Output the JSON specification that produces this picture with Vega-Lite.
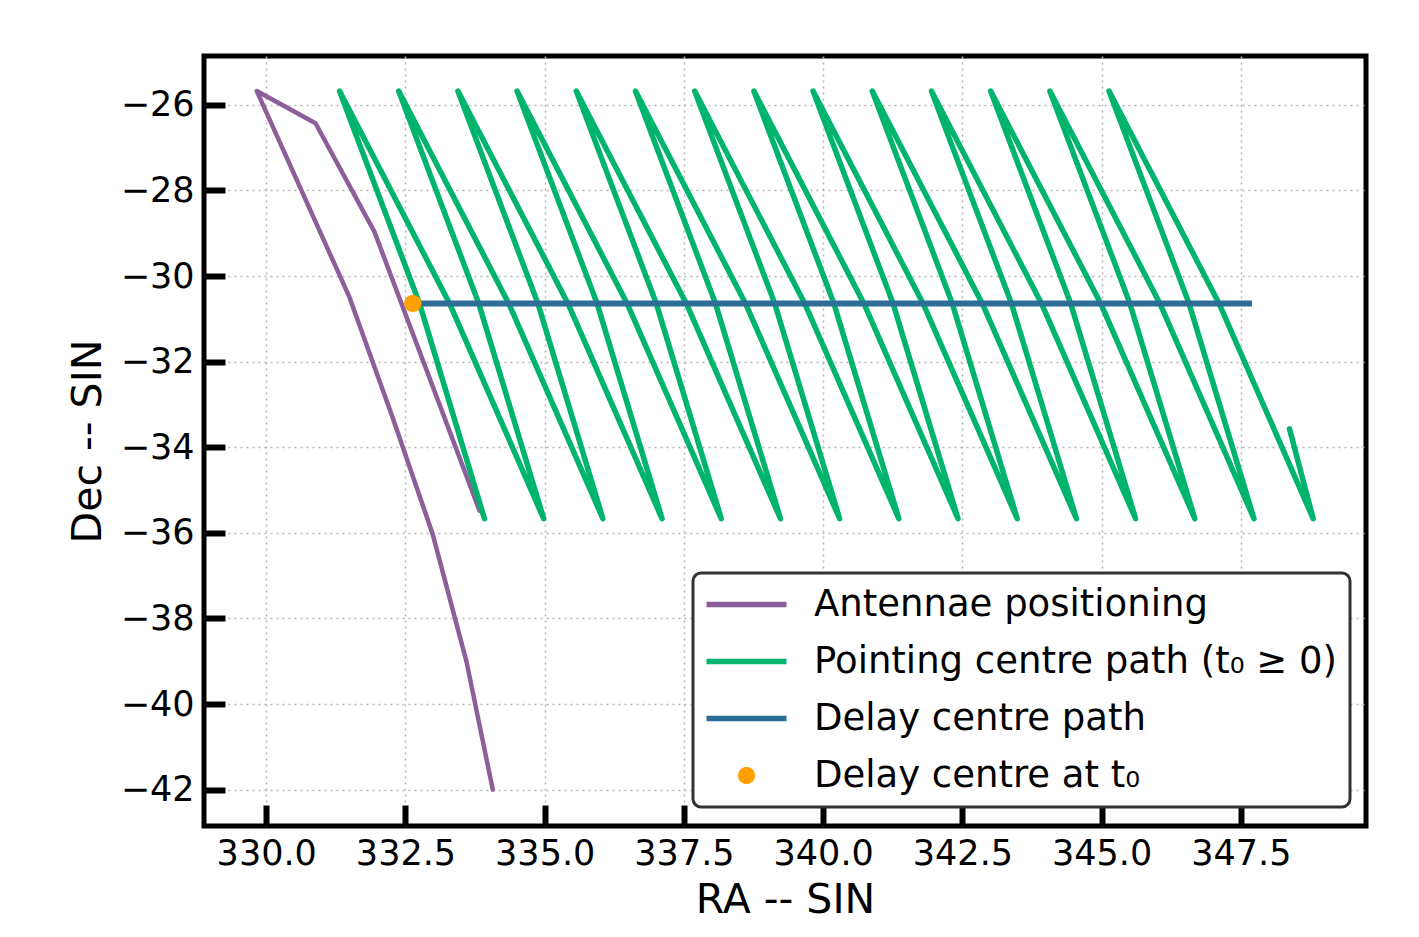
{
  "$schema": "https://vega.github.io/schema/vega-lite/v6.json",
  "width": 1162,
  "height": 770,
  "autosize": {"type": "none"},
  "padding": {"left": 204, "top": 56, "right": 53, "bottom": 111},
  "background": "white",
  "data": {
    "values": [
      {"s": "A", "i": 0, "ra": 334.068, "dec": -42.0},
      {"s": "A", "i": 1, "ra": 333.596, "dec": -39.01},
      {"s": "A", "i": 2, "ra": 332.986, "dec": -36.02},
      {"s": "A", "i": 3, "ra": 332.268, "dec": -33.3},
      {"s": "A", "i": 4, "ra": 331.496, "dec": -30.5},
      {"s": "A", "i": 5, "ra": 329.831, "dec": -25.68},
      {"s": "A", "i": 6, "ra": 330.885, "dec": -26.43},
      {"s": "A", "i": 7, "ra": 331.944, "dec": -28.97},
      {"s": "A", "i": 8, "ra": 333.829, "dec": -35.48},
      {"s": "P", "i": 0, "ra": 333.919, "dec": -35.67},
      {"s": "P", "i": 1, "ra": 332.752, "dec": -30.64},
      {"s": "P", "i": 2, "ra": 331.316, "dec": -25.68},
      {"s": "P", "i": 3, "ra": 333.291, "dec": -30.64},
      {"s": "P", "i": 4, "ra": 334.982, "dec": -35.67},
      {"s": "P", "i": 5, "ra": 333.815, "dec": -30.64},
      {"s": "P", "i": 6, "ra": 332.379, "dec": -25.68},
      {"s": "P", "i": 7, "ra": 334.354, "dec": -30.64},
      {"s": "P", "i": 8, "ra": 336.045, "dec": -35.67},
      {"s": "P", "i": 9, "ra": 334.878, "dec": -30.64},
      {"s": "P", "i": 10, "ra": 333.442, "dec": -25.68},
      {"s": "P", "i": 11, "ra": 335.417, "dec": -30.64},
      {"s": "P", "i": 12, "ra": 337.107, "dec": -35.67},
      {"s": "P", "i": 13, "ra": 335.94, "dec": -30.64},
      {"s": "P", "i": 14, "ra": 334.504, "dec": -25.68},
      {"s": "P", "i": 15, "ra": 336.479, "dec": -30.64},
      {"s": "P", "i": 16, "ra": 338.17, "dec": -35.67},
      {"s": "P", "i": 17, "ra": 337.003, "dec": -30.64},
      {"s": "P", "i": 18, "ra": 335.567, "dec": -25.68},
      {"s": "P", "i": 19, "ra": 337.542, "dec": -30.64},
      {"s": "P", "i": 20, "ra": 339.233, "dec": -35.67},
      {"s": "P", "i": 21, "ra": 338.066, "dec": -30.64},
      {"s": "P", "i": 22, "ra": 336.63, "dec": -25.68},
      {"s": "P", "i": 23, "ra": 338.605, "dec": -30.64},
      {"s": "P", "i": 24, "ra": 340.296, "dec": -35.67},
      {"s": "P", "i": 25, "ra": 339.129, "dec": -30.64},
      {"s": "P", "i": 26, "ra": 337.693, "dec": -25.68},
      {"s": "P", "i": 27, "ra": 339.668, "dec": -30.64},
      {"s": "P", "i": 28, "ra": 341.359, "dec": -35.67},
      {"s": "P", "i": 29, "ra": 340.192, "dec": -30.64},
      {"s": "P", "i": 30, "ra": 338.756, "dec": -25.68},
      {"s": "P", "i": 31, "ra": 340.731, "dec": -30.64},
      {"s": "P", "i": 32, "ra": 342.421, "dec": -35.67},
      {"s": "P", "i": 33, "ra": 341.254, "dec": -30.64},
      {"s": "P", "i": 34, "ra": 339.818, "dec": -25.68},
      {"s": "P", "i": 35, "ra": 341.793, "dec": -30.64},
      {"s": "P", "i": 36, "ra": 343.484, "dec": -35.67},
      {"s": "P", "i": 37, "ra": 342.317, "dec": -30.64},
      {"s": "P", "i": 38, "ra": 340.881, "dec": -25.68},
      {"s": "P", "i": 39, "ra": 342.856, "dec": -30.64},
      {"s": "P", "i": 40, "ra": 344.547, "dec": -35.67},
      {"s": "P", "i": 41, "ra": 343.38, "dec": -30.64},
      {"s": "P", "i": 42, "ra": 341.944, "dec": -25.68},
      {"s": "P", "i": 43, "ra": 343.919, "dec": -30.64},
      {"s": "P", "i": 44, "ra": 345.61, "dec": -35.67},
      {"s": "P", "i": 45, "ra": 344.443, "dec": -30.64},
      {"s": "P", "i": 46, "ra": 343.007, "dec": -25.68},
      {"s": "P", "i": 47, "ra": 344.982, "dec": -30.64},
      {"s": "P", "i": 48, "ra": 346.673, "dec": -35.67},
      {"s": "P", "i": 49, "ra": 345.506, "dec": -30.64},
      {"s": "P", "i": 50, "ra": 344.07, "dec": -25.68},
      {"s": "P", "i": 51, "ra": 346.045, "dec": -30.64},
      {"s": "P", "i": 52, "ra": 347.735, "dec": -35.67},
      {"s": "P", "i": 53, "ra": 346.568, "dec": -30.64},
      {"s": "P", "i": 54, "ra": 345.132, "dec": -25.68},
      {"s": "P", "i": 55, "ra": 347.107, "dec": -30.64},
      {"s": "P", "i": 56, "ra": 348.798, "dec": -35.67},
      {"s": "P", "i": 57, "ra": 348.372, "dec": -33.57},
      {"s": "D", "i": 0, "ra": 332.632, "dec": -30.64},
      {"s": "D", "i": 1, "ra": 347.7, "dec": -30.64},
      {"s": "C", "i": 0, "ra": 332.632, "dec": -30.64}
    ]
  },
  "encoding": {
    "x": {
      "field": "ra",
      "type": "quantitative",
      "scale": {"domain": [328.883, 349.746], "nice": false, "zero": false},
      "axis": {
        "values": [330, 332.5, 335, 337.5, 340, 342.5, 345, 347.5],
        "format": ".1f",
        "title": "RA -- SIN",
        "titlePadding": 9
      }
    },
    "y": {
      "field": "dec",
      "type": "quantitative",
      "scale": {"domain": [-42.85, -24.86], "nice": false, "zero": false},
      "axis": {
        "values": [-42, -40, -38, -36, -34, -32, -30, -28, -26],
        "format": "d",
        "title": "Dec -- SIN",
        "titlePadding": 11
      }
    },
    "order": {"field": "i", "type": "quantitative"},
    "color": {
      "field": "s",
      "type": "nominal",
      "scale": {
        "domain": ["A", "P", "D", "C"],
        "range": ["#8c5f9b", "#00b46e", "#2d6e96", "#ffa000"]
      },
      "legend": {
        "orient": "none",
        "legendX": 489,
        "legendY": 517,
        "title": null,
        "labelExpr": "datum.label === 'A' ? 'Antennae positioning' : datum.label === 'P' ? 'Pointing centre path (t₀ ≥ 0)' : datum.label === 'D' ? 'Delay centre path' : 'Delay centre at t₀'",
        "encode": {
          "symbols": {
            "update": {
              "shape": {"signal": "datum.value === 'C' ? 'circle' : 'stroke'"},
              "size": {"signal": "datum.value === 'C' ? 300 : 6400"},
              "fill": {"signal": "datum.value === 'C' ? scale('color', datum.value) : 'transparent'"},
              "stroke": {"signal": "scale('color', datum.value)"},
              "strokeWidth": {"signal": "datum.value === 'C' ? 0 : 5.5"},
              "opacity": {"value": 1}
            }
          },
          "legend": {
            "update": {
              "stroke": {"value": "#333333"},
              "strokeWidth": {"value": 3},
              "cornerRadius": {"value": 8},
              "fill": {"value": "white"}
            }
          }
        }
      }
    }
  },
  "layer": [
    {
      "transform": [{"filter": "datum.s === 'A'"}],
      "mark": {"type": "line", "strokeWidth": 4.5, "strokeJoin": "round", "strokeCap": "round"}
    },
    {
      "transform": [{"filter": "datum.s === 'P'"}],
      "mark": {"type": "line", "strokeWidth": 5.5, "strokeJoin": "round", "strokeCap": "round"}
    },
    {
      "transform": [{"filter": "datum.s === 'D'"}],
      "mark": {"type": "line", "strokeWidth": 6, "strokeCap": "butt"}
    },
    {
      "transform": [{"filter": "datum.s === 'C'"}],
      "mark": {"type": "point", "filled": true, "size": 300, "opacity": 1, "shape": "circle"}
    }
  ],
  "config": {
    "font": "DejaVu Sans",
    "view": {"stroke": "black", "strokeWidth": 5},
    "axis": {
      "domain": false,
      "grid": true,
      "gridColor": "#b4b4b4",
      "gridDash": [2, 4],
      "gridWidth": 1.5,
      "ticks": true,
      "tickSize": -21,
      "tickWidth": 6,
      "tickColor": "black",
      "labelFont": "DejaVu Sans",
      "labelFontSize": 35,
      "labelColor": "black",
      "labelPadding": 31,
      "labelFlush": false,
      "labelOverlap": false,
      "labelBound": false,
      "titleFont": "DejaVu Sans",
      "titleFontSize": 41,
      "titleFontWeight": "normal",
      "titleColor": "black"
    },
    "legend": {
      "labelFont": "DejaVu Sans",
      "labelFontSize": 37,
      "labelColor": "black",
      "labelOffset": 49,
      "symbolOffset": 22,
      "labelLimit": 0,
      "symbolType": "stroke",
      "symbolSize": 6400,
      "symbolStrokeWidth": 5.5,
      "rowPadding": 19,
      "padding": 13,
      "strokeColor": "#333333",
      "fillColor": "white",
      "cornerRadius": 8
    }
  }
}
